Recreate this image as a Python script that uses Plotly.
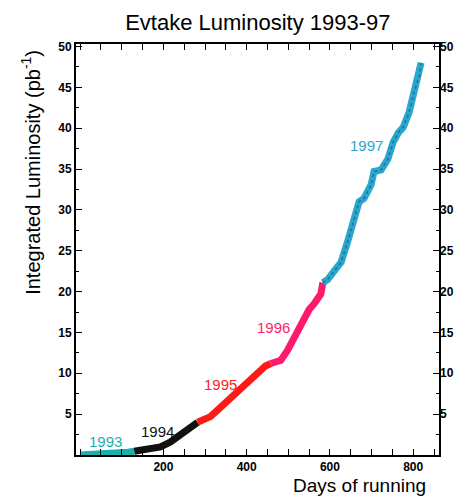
import plotly.graph_objects as go

# Integrated luminosity per running period (days of running, pb^-1)
days_1993 = [0, 30, 60, 90, 115, 130]
lumi_1993 = [0.0, 0.05, 0.1, 0.2, 0.35, 0.45]

days_1994 = [130, 160, 193, 217, 241, 260, 272, 282]
lumi_1994 = [0.45, 0.75, 1.0, 1.6, 2.5, 3.1, 3.5, 4.0]

days_1995 = [282, 300, 313, 330, 345, 362, 378, 392, 405, 418, 430, 445, 458]
lumi_1995 = [4.0, 4.4, 4.7, 5.5, 6.2, 7.0, 7.8, 8.5, 9.2, 9.9, 10.4, 10.9, 11.2]

days_1996 = [458, 470, 482, 498, 514, 526, 538, 550, 562, 572, 578, 583]
lumi_1996 = [11.2, 11.4, 11.6, 12.8, 14.4, 15.8, 16.8, 17.8, 18.5, 19.3, 19.7, 21.1]

days_1997 = [583, 595, 610, 627, 643, 658, 670, 682, 699, 706, 723, 739,
             752, 765, 776, 790, 802, 815, 819]
lumi_1997 = [21.1, 21.5, 22.5, 23.6, 26.2, 29.0, 31.0, 31.4, 33.1, 34.7, 34.9,
             36.2, 38.3, 39.5, 40.1, 41.9, 44.4, 46.4, 48.0]

year_labels = ["1993", "1994", "1995", "1996", "1997"]
label_days = [60, 185, 337, 465, 687]
label_lumi = [1.7, 2.9, 8.6, 15.6, 37.9]

colors = ["#1bb0b0", "#111111", "#ff1a1a", "#ff1a6e", "#29a8cc"]

segments = [(days_1993, lumi_1993), (days_1994, lumi_1994), (days_1995, lumi_1995),
            (days_1996, lumi_1996), (days_1997, lumi_1997)]

x_ticks = [200, 400, 600, 800]
y_ticks = [5, 10, 15, 20, 25, 30, 35, 40, 45, 50]

fig = go.Figure()
for (d, l), c in zip(segments, colors):
    fig.add_trace(go.Scatter(x=d, y=l, mode="lines",
                             line=dict(color=c, width=7),
                             hoverinfo="skip", showlegend=False))

# darker core of the 1997 band
fig.add_trace(go.Scatter(x=days_1997, y=lumi_1997, mode="lines",
                         line=dict(color="#2b4c9c", width=1.5, dash="dot"),
                         opacity=0.7, hoverinfo="skip", showlegend=False))

# invisible trace on the right axis so its ticks render
fig.add_trace(go.Scatter(x=[days_1997[-1]], y=[lumi_1997[-1]], yaxis="y2",
                         mode="markers", marker=dict(opacity=0),
                         hoverinfo="skip", showlegend=False))

for txt, xd, yd, c in zip(year_labels, label_days, label_lumi, colors):
    fig.add_annotation(x=xd, y=yd, text=txt, showarrow=False,
                       font=dict(color=c, size=15, family="Liberation Sans"))

tick_font = dict(family="Liberation Sans", size=12, color="black", weight="bold")

fig.update_layout(
    width=458, height=496,
    margin=dict(l=76, r=19, t=44, b=41),
    paper_bgcolor="white", plot_bgcolor="white",
    font=dict(family="Liberation Sans", color="black"),
    title=dict(text="Evtake Luminosity 1993-97", x=0.563, xanchor="center",
               y=0.955, yanchor="middle",
               font=dict(size=22, family="Liberation Sans", color="black")),
    xaxis=dict(range=[-10, 862], tickvals=x_ticks, ticks="inside", ticklen=6,
               tickwidth=1.2, tickcolor="black", automargin=False,
               showline=True, linecolor="black", linewidth=2, mirror="allticks",
               showgrid=False, zeroline=False, tickfont=tick_font,
               minor=dict(dtick=50, tick0=0, ticks="inside", ticklen=3,
                          tickcolor="black", showgrid=False)),
    yaxis=dict(range=[0, 50.3], tickvals=y_ticks, ticks="inside", ticklen=6,
               tickwidth=1.2, tickcolor="black", automargin=False,
               showline=True, linecolor="black", linewidth=2, mirror=True,
               showgrid=False, zeroline=False, tickfont=tick_font,
               minor=dict(dtick=2.5, tick0=0, ticks="inside", ticklen=3,
                          tickcolor="black", showgrid=False)),
    yaxis2=dict(range=[0, 50.3], tickvals=y_ticks, overlaying="y", side="right",
                ticks="inside", ticklen=6, tickwidth=1.2, tickcolor="black",
                showline=False, showgrid=False, zeroline=False,
                automargin=False, tickfont=tick_font,
                minor=dict(dtick=2.5, tick0=0, ticks="inside", ticklen=3,
                           tickcolor="black", showgrid=False)),
)

fig.add_annotation(text="Integrated Luminosity (pb<sup>-1</sup>)", textangle=-90,
                   xref="paper", yref="paper", x=-0.124, y=0.689,
                   xanchor="center", yanchor="middle", showarrow=False,
                   font=dict(size=20, family="Liberation Sans", color="black"))
fig.add_annotation(text="Days of running", xref="paper", yref="paper",
                   x=0.970, y=-0.073, xanchor="right", yanchor="middle",
                   showarrow=False,
                   font=dict(size=19, family="Liberation Sans", color="black"))

fig.write_html("out.html")
